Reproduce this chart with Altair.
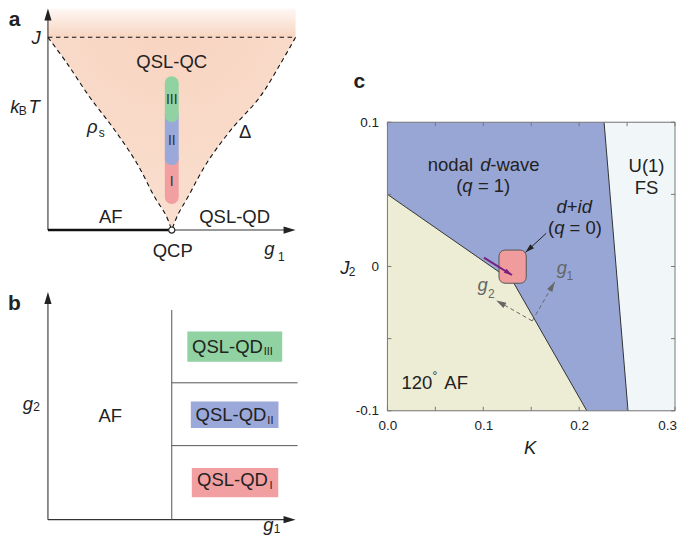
import math
import altair as alt
import pandas as pd

FONT = "Liberation Sans"
INK = "#222222"
ARROW = "M0,0L0.6,2L-0.6,2Z"  # arrow head with tip at the anchor point

# ---------------- panel a : schematic T-g1 diagram ----------------
a_left_g1 = [0.0, 0.077, 0.169, 0.270, 0.359, 0.431, 0.476, 0.5]
a_right_g1 = [1.0, 0.940, 0.855, 0.738, 0.641, 0.565, 0.524, 0.5]
a_curve_T = [1.0, 0.865, 0.689, 0.518, 0.347, 0.171, 0.078, 0.0]
a_J = 1.0
a_T_top = 1.15
a_qcp = 0.5
cap_names = ["I", "II", "III"]
cap_lo = [0.135, 0.337, 0.560]
cap_hi = [0.415, 0.632, 0.798]
cap_label_T = [0.249, 0.461, 0.675]
cap_g1 = [0.472, 0.528]
phase_colors = ["#f29fa1", "#9aa8da", "#90d2a1"]

# ---------------- panel b : schematic g2-g1 diagram ----------------
b_qcp = 0.5
b_vline_top = 0.921
b_hlines = [0.601, 0.325]
b_hline_end = 1.008
b_box_g1_lo = [0.581, 0.577, 0.563]
b_box_g1_hi = [0.930, 0.931, 0.946]
b_box_g2_lo = [0.098, 0.402, 0.694]
b_box_g2_hi = [0.227, 0.519, 0.826]

# ---------------- panel c : J2-K phase diagram ----------------
c_af_K = [0.0, 0.131, 0.208]
c_af_J2 = [0.05, -0.0105, -0.1]
c_fs_K = [0.226, 0.251]
c_fs_J2 = [0.1, -0.1]
c_did_K = [0.1164, 0.1448]
c_did_J2 = [-0.0116, 0.0114]
c_xticks = [0.0, 0.05, 0.1, 0.15, 0.2, 0.25, 0.3]
c_yticks = [-0.1, -0.05, 0.0, 0.05, 0.1]
c_xlabels = [0.0, 0.1, 0.2, 0.3]
c_ylabels = [-0.1, 0.0, 0.1]
c_arrow_purple = [0.1007, 0.0061, 0.1299, -0.0059]
c_arrow_black = [0.1656, 0.0230, 0.1441, 0.0098]
c_arrow_g1 = [0.1510, -0.0377, 0.1745, -0.0107]
c_arrow_g2 = [0.1510, -0.0377, 0.1135, -0.0235]

A_W, A_H = 248, 222
B_W, B_H = 248, 228
C_W, C_H = 288, 289


def T(text, x, y, size=18.5, style="normal", weight="normal", align="center", color=INK):
    return dict(text=text, x=x, y=y, size=size, style=style, weight=weight, align=align, color=color)


def text_layers(rows, X, Y):
    df = pd.DataFrame(rows)
    out = []
    for (style, weight, align), g in df.groupby(["style", "weight", "align"]):
        out.append(
            alt.Chart(g.reset_index(drop=True))
            .mark_text(font=FONT, fontStyle=style, fontWeight=weight, align=align, baseline="middle")
            .encode(
                x=X("x"), y=Y("y"), text="text:N",
                size=alt.Size("size:Q", scale=None, legend=None),
                color=alt.Color("color:N", scale=None, legend=None),
            )
        )
    return out


# ======================= panel a =======================
def aX(f):
    return alt.X(f"{f}:Q", scale=alt.Scale(domain=[0, 1], nice=False, zero=False), axis=None)


def aY(f):
    return alt.Y(f"{f}:Q", scale=alt.Scale(domain=[0, a_T_top], nice=False, zero=False), axis=None)


def bX(f):
    return alt.X(f"{f}:Q", scale=alt.Scale(domain=[0, 1], nice=False, zero=False), axis=None)


def bY(f):
    return alt.Y(f"{f}:Q", scale=alt.Scale(domain=[0, 1], nice=False, zero=False), axis=None)


v_grad = alt.RadialGradient(
    gradient="radial", x1=0.5, y1=0.0, r1=0, x2=0.5, y2=0.0, r2=1.0,
    stops=[alt.GradientStop(color="#f8d3bf", offset=0),
           alt.GradientStop(color="#f9dbca", offset=0.6),
           alt.GradientStop(color="#fae0d0", offset=1)],
)
top_grad = alt.LinearGradient(
    gradient="linear", x1=0, y1=0, x2=0, y2=1,
    stops=[alt.GradientStop(color="#fef8f5", offset=0),
           alt.GradientStop(color="#f8d4c0", offset=1)],
)

v_df = pd.DataFrame({"T": a_curve_T, "gl": a_left_g1, "gr": a_right_g1})
top_df = pd.DataFrame({"x0": [0.0], "x1": [1.0], "y0": [a_J], "y1": [a_T_top]})
curves_df = pd.DataFrame({
    "g1": a_left_g1 + a_right_g1,
    "T": a_curve_T + a_curve_T,
    "side": ["l"] * len(a_left_g1) + ["r"] * len(a_right_g1),
    "i": list(range(len(a_left_g1))) * 2,
})

a_layers = [
    alt.Chart(top_df).mark_rect(color=top_grad).encode(x=aX("x0"), x2="x1:Q", y=aY("y0"), y2="y1:Q"),
    alt.Chart(v_df).mark_area(orient="horizontal", interpolate="catmull-rom", color=v_grad)
    .encode(y=aY("T"), x=aX("gl"), x2="gr:Q"),
    alt.Chart(curves_df).mark_line(interpolate="catmull-rom", strokeDash=[4.5, 3.5], strokeWidth=1.1, color="#111")
    .encode(x=aX("g1"), y=aY("T"), detail="side:N", order="i:Q"),
    alt.Chart(pd.DataFrame({"x0": [0.0], "x1": [1.0], "y": [a_J]}))
    .mark_rule(strokeDash=[4.5, 3.5], strokeWidth=1.1, color="#111")
    .encode(x=aX("x0"), x2="x1:Q", y=aY("y")),
    # axes
    alt.Chart(pd.DataFrame({"x": [0.0], "y0": [0.0], "y1": [a_T_top - 0.03]}))
    .mark_rule(color="#333", strokeWidth=1.1).encode(x=aX("x"), y=aY("y0"), y2="y1:Q"),
    alt.Chart(pd.DataFrame({"x0": [0.0], "x1": [0.98], "y": [0.0]}))
    .mark_rule(color="#333", strokeWidth=1.1).encode(x=aX("x0"), x2="x1:Q", y=aY("y")),
    alt.Chart(pd.DataFrame({"x": [0.0], "y": [a_T_top]}))
    .mark_point(shape=ARROW, filled=True, size=144, color="#222", opacity=1, angle=0)
    .encode(x=aX("x"), y=aY("y")),
    alt.Chart(pd.DataFrame({"x": [1.0], "y": [0.0]}))
    .mark_point(shape=ARROW, filled=True, size=144, color="#222", opacity=1, angle=90)
    .encode(x=aX("x"), y=aY("y")),
    alt.Chart(pd.DataFrame({"x0": [0.0], "x1": [a_qcp], "y": [0.0]}))
    .mark_rule(color="#111", strokeWidth=2.6).encode(x=aX("x0"), x2="x1:Q", y=aY("y")),
    alt.Chart(pd.DataFrame({"x": [a_qcp], "y": [0.0]}))
    .mark_point(shape="circle", filled=True, fill="white", stroke="#222", strokeWidth=1.2, size=38, opacity=1)
    .encode(x=aX("x"), y=aY("y")),
    # capsule
    alt.Chart(pd.DataFrame({"name": cap_names, "lo": cap_lo, "hi": cap_hi,
                            "x0": [cap_g1[0]] * 3, "x1": [cap_g1[1]] * 3}))
    .mark_rect(cornerRadius=7)
    .encode(x=aX("x0"), x2="x1:Q", y=aY("lo"), y2="hi:Q",
            color=alt.Color("name:N", scale=alt.Scale(domain=cap_names, range=phase_colors), legend=None)),
]

a_text = [
    T("a", -0.135, 1.09, size=21, weight="bold"),
    T("J", -0.048, 0.995, style="italic"),
    T("k", -0.134, 0.637, style="italic"),
    T("B", -0.102, 0.619, size=12),
    T("T", -0.056, 0.637, style="italic"),
    T("QSL-QC", 0.5, 0.870),
    T("ρ", 0.179, 0.534, style="italic"),
    T("s", 0.217, 0.505, size=12),
    T("Δ", 0.796, 0.509),
    T("AF", 0.254, 0.067),
    T("QSL-QD", 0.754, 0.067),
    T("QCP", 0.504, -0.108),
    T("g", 0.894, -0.096, style="italic"),
    T("1", 0.942, -0.138, size=12),
]
for n, t in zip(cap_names, cap_label_T):
    a_text.append(T(n, 0.5, t, size=14, color="#333"))

panel_a = alt.layer(*a_layers, *text_layers(a_text, aX, aY)).properties(width=A_W, height=A_H)

# ======================= panel b =======================
boxes_df = pd.DataFrame({"name": cap_names, "x0": b_box_g1_lo, "x1": b_box_g1_hi,
                         "y0": b_box_g2_lo, "y1": b_box_g2_hi})
b_layers = [
    alt.Chart(pd.DataFrame({"x": [0.0], "y0": [0.0], "y1": [0.97]}))
    .mark_rule(color="#333", strokeWidth=1.1).encode(x=bX("x"), y=bY("y0"), y2="y1:Q"),
    alt.Chart(pd.DataFrame({"x0": [0.0], "x1": [0.98], "y": [0.0]}))
    .mark_rule(color="#333", strokeWidth=1.1).encode(x=bX("x0"), x2="x1:Q", y=bY("y")),
    alt.Chart(pd.DataFrame({"x": [0.0], "y": [1.0]}))
    .mark_point(shape=ARROW, filled=True, size=144, color="#222", opacity=1, angle=0)
    .encode(x=bX("x"), y=bY("y")),
    alt.Chart(pd.DataFrame({"x": [1.0], "y": [0.0]}))
    .mark_point(shape=ARROW, filled=True, size=144, color="#222", opacity=1, angle=90)
    .encode(x=bX("x"), y=bY("y")),
    alt.Chart(pd.DataFrame({"x": [b_qcp], "y0": [0.0], "y1": [b_vline_top]}))
    .mark_rule(color="#555", strokeWidth=1).encode(x=bX("x"), y=bY("y0"), y2="y1:Q"),
    alt.Chart(pd.DataFrame({"x0": [b_qcp] * 2, "x1": [b_hline_end] * 2, "y": b_hlines}))
    .mark_rule(color="#555", strokeWidth=1).encode(x=bX("x0"), x2="x1:Q", y=bY("y")),
    alt.Chart(boxes_df).mark_rect()
    .encode(x=bX("x0"), x2="x1:Q", y=bY("y0"), y2="y1:Q",
            color=alt.Color("name:N", scale=alt.Scale(domain=cap_names, range=phase_colors), legend=None)),
]
b_text = [
    T("b", -0.135, 0.947, size=21, weight="bold"),
    T("g", -0.081, 0.509, style="italic"),
    T("2", -0.046, 0.493, size=12),
    T("AF", 0.252, 0.457),
    T("g", 0.890, -0.025, style="italic"),
    T("1", 0.925, -0.043, size=12),
    T("QSL-QD", 0.868, 0.760, align="right"),
    T("III", 0.871, 0.735, size=11, align="left"),
    T("QSL-QD", 0.882, 0.458, align="right"),
    T("II", 0.886, 0.434, size=11, align="left"),
    T("QSL-QD", 0.888, 0.172, align="right"),
    T("I", 0.895, 0.149, size=11, align="left"),
]
panel_b = alt.layer(*b_layers, *text_layers(b_text, bX, bY)).properties(width=B_W, height=B_H)

# ======================= panel c =======================
c_xscale = alt.Scale(domain=[0, 0.3], nice=False, zero=False)
c_yscale = alt.Scale(domain=[-0.1, 0.1], nice=False, zero=False)
c_xaxis = alt.Axis(values=c_xlabels, format=".1f", title=None, labelFlush=False, labelOverlap=False,
                   labelOffset={"condition": {"test": "datum.value > 0.29", "value": -8}, "value": 0})
c_yaxis = alt.Axis(values=c_ylabels, title=None, labelFlush=False, labelOverlap=False,
                   labelExpr="datum.value == 0 ? '0' : (datum.value < 0 ? '-' + format(-datum.value, '.1f') : format(datum.value, '.1f'))")


def cX(f):
    return alt.X(f"{f}:Q", scale=c_xscale, axis=c_xaxis)


def cY(f):
    return alt.Y(f"{f}:Q", scale=c_yscale, axis=c_yaxis)


frame_df = pd.DataFrame({"x0": [0.0], "x1": [0.3], "y0": [-0.1], "y1": [0.1]})
af_df = pd.DataFrame({"K": c_af_K, "J2": c_af_J2, "lo": [-0.1] * len(c_af_K)})
fs_df = pd.DataFrame({"K": c_fs_K, "J2": c_fs_J2, "hi": [0.3] * len(c_fs_K)})


def arrow(spec, color, width, size, dash=None):
    k0, j0, k1, j1 = spec
    ang = math.degrees(math.atan2((k1 - k0) * C_W / 0.3, (j1 - j0) * C_H / 0.2)) % 360
    kw = dict(color=color, strokeWidth=width)
    if dash:
        kw["strokeDash"] = dash
    line = alt.Chart(pd.DataFrame({"k0": [k0], "j0": [j0], "k1": [k1], "j1": [j1]})) \
        .mark_rule(**kw).encode(x=cX("k0"), y=cY("j0"), x2="k1:Q", y2="j1:Q")
    head = alt.Chart(pd.DataFrame({"k1": [k1], "j1": [j1]})) \
        .mark_point(shape=ARROW, filled=True, size=size, color=color, opacity=1, angle=ang) \
        .encode(x=cX("k1"), y=cY("j1"))
    return [line, head]


xt_df = pd.DataFrame({"v": c_xticks})
yt_df = pd.DataFrame({"v": c_yticks})
tick_style = dict(color="#777", strokeWidth=1)

c_layers = [
    alt.Chart(frame_df).mark_rect(color="#98a6d6").encode(x=cX("x0"), x2="x1:Q", y=cY("y0"), y2="y1:Q"),
    alt.Chart(af_df).mark_area(color="#ecedd4").encode(x=cX("K"), y=cY("J2"), y2="lo:Q"),
    alt.Chart(fs_df).mark_area(orient="horizontal", color="#f1f7f8").encode(y=cY("J2"), x=cX("K"), x2="hi:Q"),
    alt.Chart(af_df).mark_line(color="#333", strokeWidth=1).encode(x=cX("K"), y=cY("J2")),
    alt.Chart(fs_df).mark_line(color="#333", strokeWidth=1).encode(x=cX("K"), y=cY("J2")),
    alt.Chart(pd.DataFrame({"k0": [c_did_K[0]], "k1": [c_did_K[1]], "j0": [c_did_J2[0]], "j1": [c_did_J2[1]]}))
    .mark_rect(color="#f09c9c", stroke="#555", strokeWidth=1, cornerRadius=6)
    .encode(x=cX("k0"), x2="k1:Q", y=cY("j0"), y2="j1:Q"),
    *arrow(c_arrow_purple, "#7a1f7e", 2, 64),
    *arrow(c_arrow_black, "#222", 1, 81),
    *arrow(c_arrow_g1, "#666", 1, 100, dash=[4, 3]),
    *arrow(c_arrow_g2, "#666", 1, 100, dash=[4, 3]),
    alt.Chart(xt_df).mark_rule(**tick_style).encode(x=cX("v"), y=alt.value(C_H), y2=alt.value(C_H - 4)),
    alt.Chart(xt_df).mark_rule(**tick_style).encode(x=cX("v"), y=alt.value(0), y2=alt.value(4)),
    alt.Chart(yt_df).mark_rule(**tick_style).encode(y=cY("v"), x=alt.value(0), x2=alt.value(4)),
    alt.Chart(yt_df).mark_rule(**tick_style).encode(y=cY("v"), x=alt.value(C_W), x2=alt.value(C_W - 4)),
    alt.Chart(frame_df).mark_rect(filled=False, stroke="#777", strokeWidth=1)
    .encode(x=cX("x0"), x2="x1:Q", y=cY("y0"), y2="y1:Q"),
]

c_text = [
    T("c", -0.0292, 0.1277, size=21, weight="bold"),
    T("nodal", 0.0893, 0.0702, align="right"),
    T("d", 0.0969, 0.0702, style="italic", align="left"),
    T("-wave", 0.1073, 0.0702, align="left"),
    T("(", 0.0719, 0.0557, align="left"),
    T("q", 0.0781, 0.0557, style="italic", align="left"),
    T("= 1)", 0.0944, 0.0557, align="left"),
    T("d", 0.1764, 0.0414, style="italic", align="left"),
    T("+", 0.1871, 0.0414, align="left"),
    T("id", 0.1984, 0.0414, style="italic", align="left"),
    T("(", 0.1674, 0.0264, align="left"),
    T("q", 0.1739, 0.0264, style="italic", align="left"),
    T("= 0)", 0.1899, 0.0264, align="left"),
    T("U(1)", 0.2703, 0.0696),
    T("FS", 0.2703, 0.0543),
    T("120", 0.0146, -0.0808, align="left"),
    T("°", 0.0469, -0.0758, size=12, align="left"),
    T("AF", 0.0594, -0.0808, align="left"),
    T("g", 0.1821, -0.0010, style="italic", color="#666"),
    T("1", 0.1903, -0.0066, size=12, color="#666"),
    T("g", 0.0993, -0.0128, style="italic", color="#666"),
    T("2", 0.1083, -0.0190, size=12, color="#666"),
    T("K", 0.149, -0.1256, style="italic"),
    T("J", -0.0445, -0.0007, style="italic"),
    T("2", -0.0368, -0.0038, size=12),
]
panel_c = alt.layer(*c_layers, *text_layers(c_text, cX, cY)).properties(width=C_W, height=C_H)

spacer = alt.Chart(pd.DataFrame({"v": [0]})).mark_point(opacity=0).encode(
    x=alt.X("v:Q", axis=None), y=alt.Y("v:Q", axis=None)).properties(width=C_W, height=104)

left = alt.vconcat(panel_a, panel_b, spacing=62, bounds="flush")
right = alt.vconcat(spacer, panel_c, spacing=10, bounds="flush")
chart = (
    alt.hconcat(left, right, spacing=41, bounds="full")
    .properties(padding=0)
    .configure_view(stroke=None)
    .configure_axis(labelFont=FONT, labelFontSize=13.5, labelColor=INK, ticks=False, tickSize=0,
                    domain=False, grid=False)
    .configure_axisX(labelPadding=8)
    .configure_axisY(labelPadding=9)
)

chart.save("out.html", embed_options={"renderer": "svg", "actions": False})
